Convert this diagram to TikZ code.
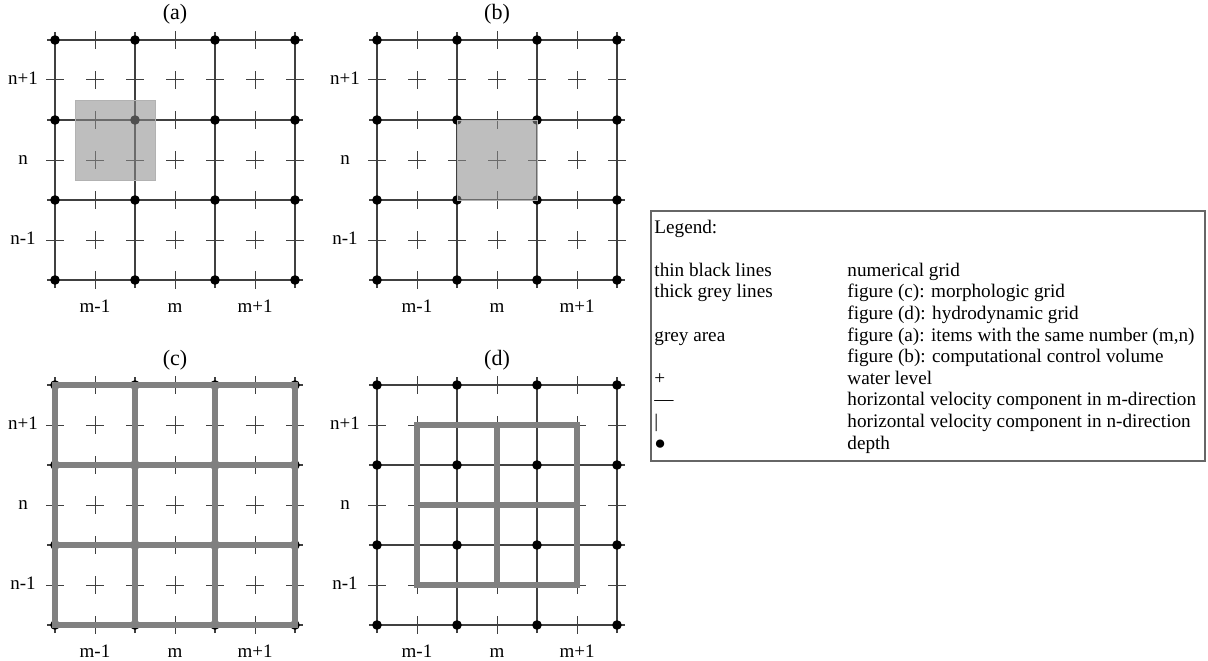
\documentclass[tikz,border=0pt]{standalone}
\usepackage{fontspec}
\setmainfont{Liberation Serif}
\usepackage{tikz}
\usetikzlibrary{positioning}

\begin{document}
\begin{tikzpicture}[
            x=20pt, y=20pt,
            gridline/.style={draw=black!75, line width=0.7pt},
            velo/.style={draw=black!75, line width=0.5pt},
            depthdot/.style={fill=black},
            thickgrey/.style={draw=black!50, line width=2.9pt, line cap=rect},
            greyarea/.style={fill=black!45, fill opacity=0.57, draw=black!30},
            paneltitle/.style={anchor=base, inner sep=0pt, font=\fontsize{11}{13}\selectfont},
            gridlabel/.style={anchor=base, inner sep=0pt, font=\fontsize{9.5}{11}\selectfont},
            legendtext/.style={anchor=base west, inner sep=0pt, font=\fontsize{9.6}{10.8}\selectfont},
            legendframe/.style={draw=black!60, line width=0.7pt},
            pics/panelgrid/.style={code={
                \foreach \k in {0,2,4,6} {
                    \draw[gridline] (-0.2,\k) -- (6.2,\k);
                    \draw[gridline] (\k,-0.2) -- (\k,6.2);
                }
                \foreach \i in {1,3,5} {
                    \foreach \k in {0,2,4,6} {
                        \draw[velo] (\i,\k-0.22) -- (\i,\k+0.22);
                        \draw[velo] (\k-0.22,\i) -- (\k+0.22,\i);
                    }
                    \foreach \j in {1,3,5}
                        \draw[velo] (\i-0.22,\j) -- (\i+0.22,\j) (\i,\j-0.22) -- (\i,\j+0.22);
                }
                \foreach \i in {0,2,4,6}
                    \foreach \j in {0,2,4,6}
                        \fill[depthdot] (\i,\j) circle (0.12);
                \node[paneltitle] (-title) at (3,6.5) {(#1)};
                \node[gridlabel] (-mlow) at (1,-0.8) {m-1};
                \node[gridlabel] (-mmid) at (3,-0.8) {m};
                \node[gridlabel] (-mhigh) at (5,-0.8) {m+1};
                \node[gridlabel] (-nhigh) at (-0.8,4.88) {n+1};
                \node[gridlabel] (-nmid) at (-0.8,2.88) {n};
                \node[gridlabel] (-nlow) at (-0.8,0.88) {n-1};
            }}
        ]
            \useasboundingbox (0,0) rectangle (30.2,16.5);

            \begin{scope}[shift={(1.375,9.5)}]
                \pic (a) {panelgrid=a};
                \fill[greyarea] (0.5,2.5) rectangle (2.5,4.5);
            \end{scope}

            \begin{scope}[shift={(9.425,9.5)}]
                \pic (b) {panelgrid=b};
                \fill[greyarea] (2,2) rectangle (4,4);
            \end{scope}

            \begin{scope}[shift={(1.375,0.875)}]
                \pic (c) {panelgrid=c};
                \foreach \k in {0,2,4,6}
                    \draw[thickgrey] (\k,0) -- (\k,6) (0,\k) -- (6,\k);
            \end{scope}

            \begin{scope}[shift={(9.425,0.875)}]
                \pic (d) {panelgrid=d};
                \foreach \k in {1,3,5}
                    \draw[thickgrey] (\k,1) -- (\k,5) (1,\k) -- (5,\k);
            \end{scope}

            \draw[legendframe] (16.275,4.975) rectangle (30.125,11.225);
            \node[legendtext] (legtitle) at (16.35,10.675) {Legend:};
            \foreach \key/\desc [count=\r from 2] in {
                {thin black lines}/{numerical grid},
                {thick grey lines}/{figure (c): morphologic grid},
                {}/{figure (d): hydrodynamic grid},
                {grey area}/{figure (a): items with the same number (m,n)},
                {}/{figure (b): computational control volume},
                {+}/{water level},
                {—}/{horizontal velocity component in m-direction},
                {|}/{horizontal velocity component in n-direction},
                {●}/{depth}} {
                \node[legendtext] (key\r) at (16.35,10.675-0.54*\r) {\key};
                \node[legendtext] (desc\r) at (21.175,10.675-0.54*\r) {\desc};
            }
        \end{tikzpicture}
\end{document}
